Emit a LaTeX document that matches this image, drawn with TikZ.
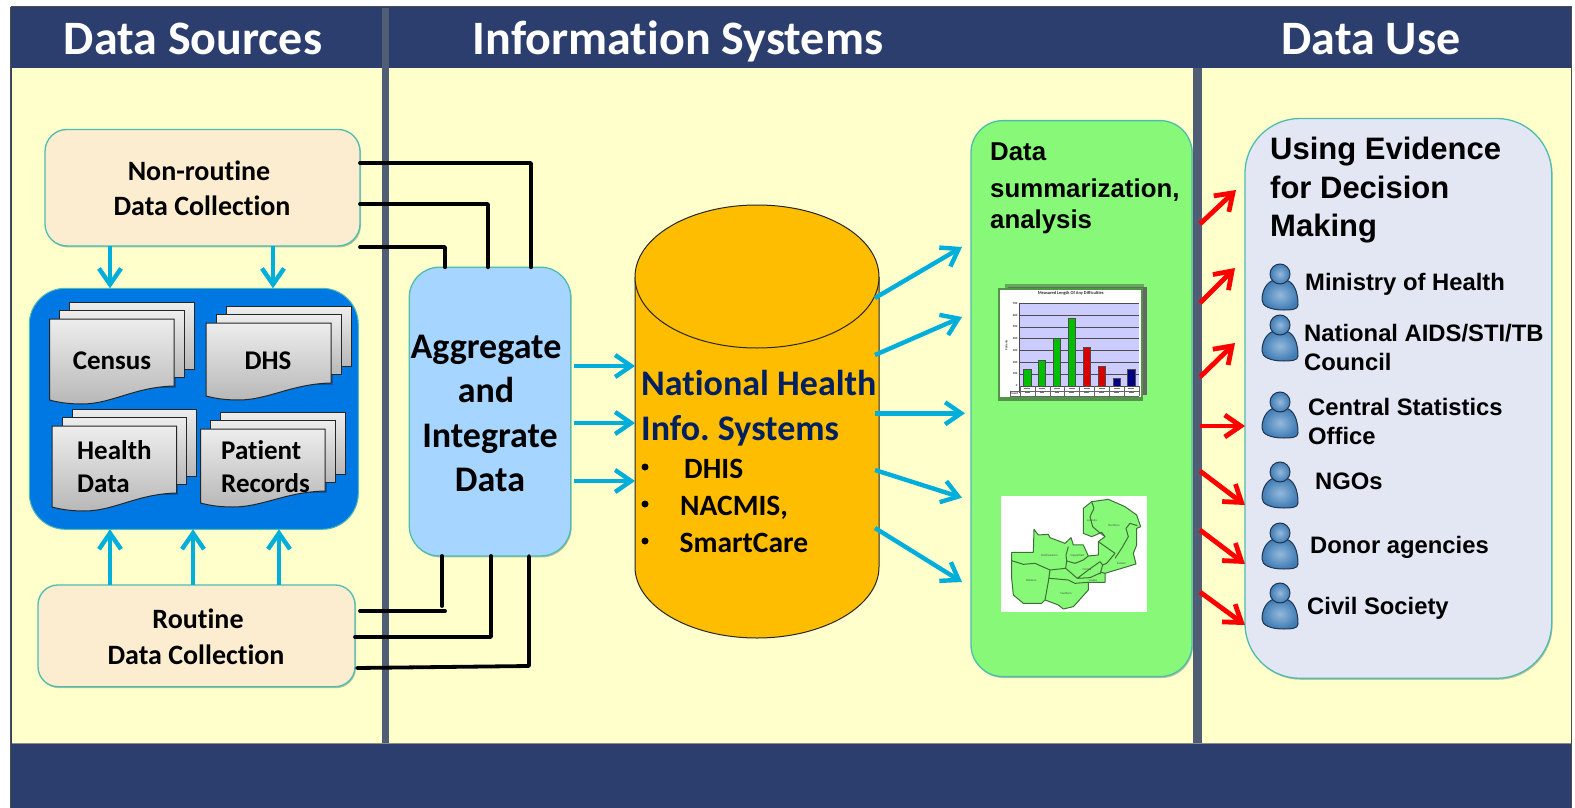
\documentclass[tikz,border=0pt]{standalone}
\usepackage{fontspec}
\setmainfont{Carlito}[Ligatures=NoCommon]
\newfontfamily\arfont{Liberation Sans}
\usetikzlibrary{arrows.meta,shadows,calc}
\definecolor{navy}{HTML}{2C3E6E}
\definecolor{panelyellow}{HTML}{FFFFCC}
\definecolor{divgray}{HTML}{4F5D75}
\definecolor{tealline}{HTML}{4DBDB0}
\definecolor{cream}{HTML}{FDEDD0}
\definecolor{bluepanel}{HTML}{0078E4}
\definecolor{skybox}{HTML}{A6D5FF}
\definecolor{limebox}{HTML}{88F878}
\definecolor{lilacbox}{HTML}{E3E7F3}
\definecolor{cylfill}{HTML}{FFBD00}
\definecolor{arrowblue}{HTML}{00AEDB}
\definecolor{deepblue}{HTML}{002060}
\definecolor{personout}{HTML}{3F7CB5}
\definecolor{personin}{HTML}{94B8DB}
\definecolor{personline}{HTML}{22354F}
\newcommand{\fsz}[2]{\fontsize{#1}{#2}\selectfont}
\newcommand{\lblstrut}{\rule[-0.35em]{0pt}{1.4em}}
\tikzset{
  x=1pt,y=-1pt,
  box/.style={draw=tealline,line width=1.3pt,outer sep=0pt,inner sep=0pt,
    drop shadow={shadow xshift=1pt,shadow yshift=-1.5pt,opacity=.25,fill=black}},
  headtext/.style={text=white,font=\bfseries\fsz{48}{48},inner sep=0pt,execute at begin node=\lblstrut},
  cali/.style={font=\bfseries\fsz{#1}{#1},inner sep=0pt,execute at begin node=\lblstrut},
  cali/.default=28,
  arial/.style={font=\arfont\bfseries\fsz{#1}{#1},inner sep=0pt,anchor=west,execute at begin node=\lblstrut},
  blink/.style={line width=3.8pt,black,line cap=round,line join=round},
  bluearrow/.style={line width=4.4pt,arrowblue,-{Straight Barb[length=16pt,width=22pt,line width=4.4pt]}},
  redarrow/.style={line width=4.8pt,red,-{Straight Barb[length=16pt,width=22pt,line width=4.8pt]}},
  sheet/.style={draw=black!85,line width=1pt,top color=white!93!black,bottom color=white!72!black},
}
% x y width height-at-right height-at-left
\newcommand{\docsheet}[5]{%
  \path[sheet] (#1,#2) -- (#1+#3,#2) -- (#1+#3,#2+#4)
    .. controls (#1+0.68*#3,#2+#4+1) and (#1+0.5*#3,#2+#5+4) .. (#1+0.26*#3,#2+#5+4)
    .. controls (#1+0.14*#3,#2+#5+4) and (#1+0.06*#3,#2+#5+2) .. (#1,#2+#5) -- cycle;}
\newcommand{\docstack}[5]{%
  \fill[black,opacity=.25] (#1+1.5,#2+1.5) rectangle (#1+#3+1.5,#2+#4+1.5);
  \path[sheet] (#1+20,#2-17) rectangle (#1+#3+20,#2+#4-17);
  \path[sheet] (#1+10,#2-8.5) rectangle (#1+#3+10,#2+#4-8.5);
  \docsheet{#1}{#2}{#3}{#4}{#5}}
% centre x, top y
\newcommand{\person}[2]{%
  \begin{scope}[shift={(#1,#2)}]
    \path[draw=personline,line width=1pt,inner color=personin,outer color=personout]
      (-6,17) .. controls (-13,19) and (-18,27) .. (-18,37)
      .. controls (-18,43) and (-10,47) .. (4,47)
      .. controls (10,47) and (18,47) .. (18,42)
      .. controls (18,27) and (13,19) .. (6,17) -- cycle;
    \path[draw=personline,line width=1pt,inner color=personin,outer color=personout]
      (0,11) circle[radius=10];
  \end{scope}}
\begin{document}
\begin{tikzpicture}
\useasboundingbox (0,0) rectangle (1575,808);
\fill[white] (0,0) rectangle (1575,808);
% frame
\fill[navy] (10.7,7) rectangle (1571,808);
\fill[panelyellow] (11.5,68) rectangle (1570.5,743);
\draw[black!70,line width=1pt] (10.7,7) -- (10.7,808) (10.7,7) -- (1571,7) -- (1571,808);
\draw[black!45,line width=1pt] (11.5,743) -- (1570.5,743);
\fill[divgray] (381.5,8) rectangle (389,743);
\fill[divgray] (1193.3,68) rectangle (1201.7,743);
\node[headtext] (h1) at (193,38) {Data Sources};
\node[headtext] (h2) at (678,38) {Information Systems};
\node[headtext] (h3) at (1371,38) {Data Use};

% boxes
\node[box,fill=cream,minimum width=315pt,minimum height=116.5pt,rounded corners=22pt] (nr) at (202.5,187.7) {};
\node[box,fill=cream,minimum width=317pt,minimum height=101.7pt,rounded corners=20pt] (rt) at (196.5,635.8) {};
\node[draw=tealline,line width=1pt,fill=bluepanel,outer sep=0pt,inner sep=0pt,minimum width=329pt,minimum height=241pt,rounded corners=36pt] (src) at (193.8,408.8) {};
\node[box,fill=skybox,minimum width=161.4pt,minimum height=288.7pt,rounded corners=30pt] (agg) at (490,411.6) {};
\node[box,fill=limebox,minimum width=221pt,minimum height=556pt,rounded corners=32pt] (sum) at (1081.5,398.6) {};
\node[box,fill=lilacbox,minimum width=306.7pt,minimum height=559.8pt,rounded corners=55pt] (use) at (1398.3,398.4) {};

\node[cali] (nrt1) at (199,171) {Non-routine};
\node[cali] (nrt2) at (202,206) {Data Collection};
\node[cali] (rtt1) at (198,619) {Routine};
\node[cali] (rtt2) at (196,655) {Data Collection};

% document stacks
\docstack{49.5}{319}{124.5}{67}{81}
\docstack{206}{323}{125}{60}{73}
\docstack{52}{426}{124.5}{67}{81}
\docstack{200.5}{429}{124.5}{62}{74}
\node[cali=27] (d1) at (112,360) {Census};
\node[cali=27] (d2) at (268,360) {DHS};
\node[cali=27,anchor=west] (d3a) at (77,450) {Health};
\node[cali=27,anchor=west] (d3b) at (77,483) {Data};
\node[cali=27,anchor=west] (d4a) at (221,450) {Patient};
\node[cali=27,anchor=west] (d4b) at (221,483) {Records};

% cylinder
\path[draw=black!85,line width=1pt,fill=cylfill]
  (635,277) -- (635,567) .. controls (635,606) and (690,638) .. (757,638)
  .. controls (824,638) and (879,606) .. (879,567) -- (879,277)
  .. controls (879,237) and (825,205) .. (757,205)
  .. controls (690,205) and (635,237) .. (635,277) -- cycle;
\path[draw=black!85,line width=1pt,fill=cylfill]
  (635,277) .. controls (635,317) and (690,348) .. (757,348)
  .. controls (825,348) and (879,317) .. (879,277);
\node[minimum width=240pt,minimum height=433pt,inner sep=0pt,outer sep=0pt] (cyl) at (755,421.5) {};
\node[cali=36,text=deepblue,anchor=west] (c1) at (641,383) {National Health};
\node[cali=36,text=deepblue,anchor=west] (c2) at (641,428) {Info.\ Systems};
\foreach \yy/\xx/\tt [count=\i] in {468/684/DHIS,505/680/{NACMIS,},542/679.5/SmartCare}{
  \fill[black] (645,\yy-1) circle[radius=3.5];
  \node[cali=29.5,anchor=west] (cb\i) at (\xx,\yy) {\tt};
}

\node[cali=36] (a1) at (486,346) {Aggregate};
\node[cali=36] (a2) at (486,390) {and};
\node[cali=36] (a3) at (490,435) {Integrate};
\node[cali=36] (a4) at (490,479) {Data};

% black links
\draw[blink] (nr.east |- 0,163) -- (531,163) -- (531 ,0 |- agg.north);
\draw[blink] (nr.east |- 0,204) -- (488,204) -- (488,0 |- agg.north);
\draw[blink] (360,247) -- (445,247) -- (445,0 |- agg.north);
\draw[blink] (442,0 |- agg.south) -- (442,606);
\draw[blink] (360,611) -- (445,611);
\draw[blink] (rt.east |- 0,637) -- (491,637) -- (491,0 |- agg.south);
\draw[blink] (357,668) -- (529,666) -- (529,0 |- agg.south);

% blue arrows
\draw[bluearrow] (110,0 |- nr.south) -- (110,0 |- src.north);
\draw[bluearrow] (273,0 |- nr.south) -- (273,0 |- src.north);
\draw[bluearrow] (110,0 |- rt.north) -- (110,0 |- src.south);
\draw[bluearrow] (193,0 |- rt.north) -- (193,0 |- src.south);
\draw[bluearrow] (279,0 |- rt.north) -- (279,0 |- src.south);
\draw[bluearrow,shorten <=3pt] (agg.east |- 0,366) -- (cyl.west |- 0,366);
\draw[bluearrow,shorten <=3pt] (agg.east |- 0,423) -- (cyl.west |- 0,423);
\draw[bluearrow,shorten <=3pt] (agg.east |- 0,481) -- (cyl.west |- 0,481);
\coordinate (t1) at (962,247);
\coordinate (t2) at (962,317);
\coordinate (t3) at (965,413.3);
\coordinate (t4) at (962,497.7);
\coordinate (t5) at (962,582);
\draw[bluearrow] (cyl.east |- 0,298) -- (t1);
\draw[bluearrow] (cyl.east |- 0,355) -- (t2);
\draw[bluearrow] (cyl.east |- 0,413.3) -- (t3);
\draw[bluearrow] (cyl.east |- 0,470) -- (t4);
\draw[bluearrow] (cyl.east |- 0,528) -- (t5);

% summary box
\node[arial=25.8] (s1) at (990,151.5) {Data};
\node[arial=25.8] (s2) at (990,188) {summarization,};
\node[arial=25.8] (s3) at (990,219) {analysis};

% chart
\begin{scope}[shift={(995,280)},x=0.3333pt,y=-0.3333pt]
  \fill[limebox!70!black] (30,12) rectangle (447,338);
  \fill[black!60] (38,20) rectangle (455,345) ;
  \fill[limebox!60!black] (10,24) rectangle (445,362);
  \fill[white] (16,30) rectangle (438,350);
  \fill[blue!20!white] (72,70) rectangle (432,318);
  \foreach \g in {70,106,141,176,211,247,282}{\draw[black!70,line width=.5pt] (72,\g) -- (432,\g);}
  \draw[black!70,line width=.5pt] (72,70) -- (72,338) (72,318) -- (432,318);
  \foreach \cx/\top/\c in {97/268/green!75!black,141/240/green!75!black,186/174/green!75!black,230/115/green!75!black,275/203/red!85!black,320/258/red!85!black,365/295/blue!50!black,409/267/blue!50!black}{
    \fill[\c,draw=black!70,line width=.4pt] (\cx-11,\top) rectangle (\cx+11,318);
    \draw[black!60,line width=.3pt] (\cx-22,318) -- (\cx-22,347);
    \fill[black!55] (\cx-9,325) rectangle (\cx+9,327.5);
    \fill[black!55] (\cx-7,337) rectangle (\cx+7,339.5);
  }
  \draw[black!60,line width=.3pt] (44,332) -- (432,332) (44,347) -- (432,347) (44,332) -- (44,347) (432,318) -- (432,347);
  \foreach \g/\v in {70/700,106/600,141/500,176/400,211/300,247/200,282/100,318/0}{
    \node[font=\bfseries\fsz{3}{3},inner sep=0pt,anchor=east,text=black!80] at (68,\g) {\v};}
  \node[font=\bfseries\fsz{4.4}{4.4},inner sep=0pt,text=black!85] at (227,41) {Measured Length Of Any Difficulties};
  \node[font=\bfseries\fsz{3}{3},inner sep=0pt,rotate=90,text=black!80] at (34,195) {Patients};
  \node[font=\bfseries\fsz{3}{3},inner sep=0pt,text=black!80] at (58,340) {Count};
\end{scope}

% map
\fill[white] (1001,496) rectangle (1147,612);
\begin{scope}[shift={(1000,495)},x=0.3333pt,y=-0.3333pt]
  \path[fill=limebox,draw=black!55!limebox,line width=1pt,line join=round]
   (35,172)--(100,172)--(102,103)--(115,120)--(145,118)--(150,128)--(195,145)--(213,128)--(220,150)--(250,150)--(265,183)--(295,180)--(295,140)--(315,125)--(305,112)--(275,125)--(250,115)--(250,40)--(275,20)--(325,13)--(375,35)--(410,60)--(422,95)--(410,100)--(410,150)--(400,175)--(408,207)--(315,235)--(315,262)--(265,262)--(265,285)--(220,335)--(190,342)--(175,330)--(135,315)--(125,325)--(70,325)--(40,300)--(35,250)--cycle;
  \draw[black!55!limebox,line width=1pt,line join=round]
   (35,197)--(70,208)--(105,205)--(150,225)--(145,260)--(135,315)
   (150,225)--(197,220)--(200,198)
   (205,155)--(198,180)--(200,198)--(225,205)--(250,195)--(265,183)
   (148,250)--(205,255)--(225,265)--(265,262)
   (232,250)--(270,248)--(305,232)--(315,235)
   (197,220)--(232,250)
   (295,140)--(345,175)--(320,205)--(308,210)--(300,238)
   (232,250)--(265,225)--(300,200)--(308,210)
   (412,92)--(390,85)--(378,100)--(385,125)--(365,160)--(345,190)
   (275,20)--(282,40)--(270,65)--(278,95)--(295,110)--(315,125);
  \foreach \xx/\yy/\nm in {148/181/Northwestern,232/183/Copperbelt,94/257/Western,198/296/Southern,261/224/Central,365/207/Eastern,342/92/Northern,276/76/Luapula,279/256/Lusaka}{
    \node[font=\fsz{3}{3},inner sep=0pt,text=black!70] at (\xx,\yy) {\nm};}
\end{scope}

% evidence box
\node[arial=31] (e1) at (1270,149) {Using Evidence};
\node[arial=31] (e2) at (1270,188) {for Decision};
\node[arial=31] (e3) at (1270,226) {Making};
\person{1280}{263}
\person{1280}{314}
\person{1280}{391}
\person{1280}{461}
\person{1280}{522}
\person{1280}{582}
\node[arial=23.8] (u1) at (1305,282) {Ministry of Health};
\node[arial=23.8] (u2a) at (1304,333) {National AIDS/STI/TB};
\node[arial=23.8] (u2b) at (1304,362) {Council};
\node[arial=23.8] (u3a) at (1308,407) {Central Statistics};
\node[arial=23.8] (u3b) at (1308,436) {Office};
\node[arial=23.8] (u4) at (1315,481) {NGOs};
\node[arial=23.8] (u5) at (1310,545) {Donor agencies};
\node[arial=23.8] (u6) at (1307,606) {Civil Society};

% red arrows
\coordinate (r1) at (1200,224); \coordinate (r1e) at (1236,190);
\coordinate (r2) at (1200,303); \coordinate (r2e) at (1235,268);
\coordinate (r3) at (1200,377); \coordinate (r3e) at (1235,343);
\draw[redarrow] (r1) -- (r1e);
\draw[redarrow] (r2) -- (r2e);
\draw[redarrow] (r3) -- (r3e);
\draw[redarrow,shorten <=8pt] (sum.east |- 0,426) -- (use.west |- 0,426);
\draw[redarrow] (1200,471) -- (use.west |- 0,505);
\draw[redarrow] (1200,530) -- (use.west |- 0,564);
\draw[redarrow] (1200,592) -- (use.west |- 0,625);
\end{tikzpicture}
\end{document}
